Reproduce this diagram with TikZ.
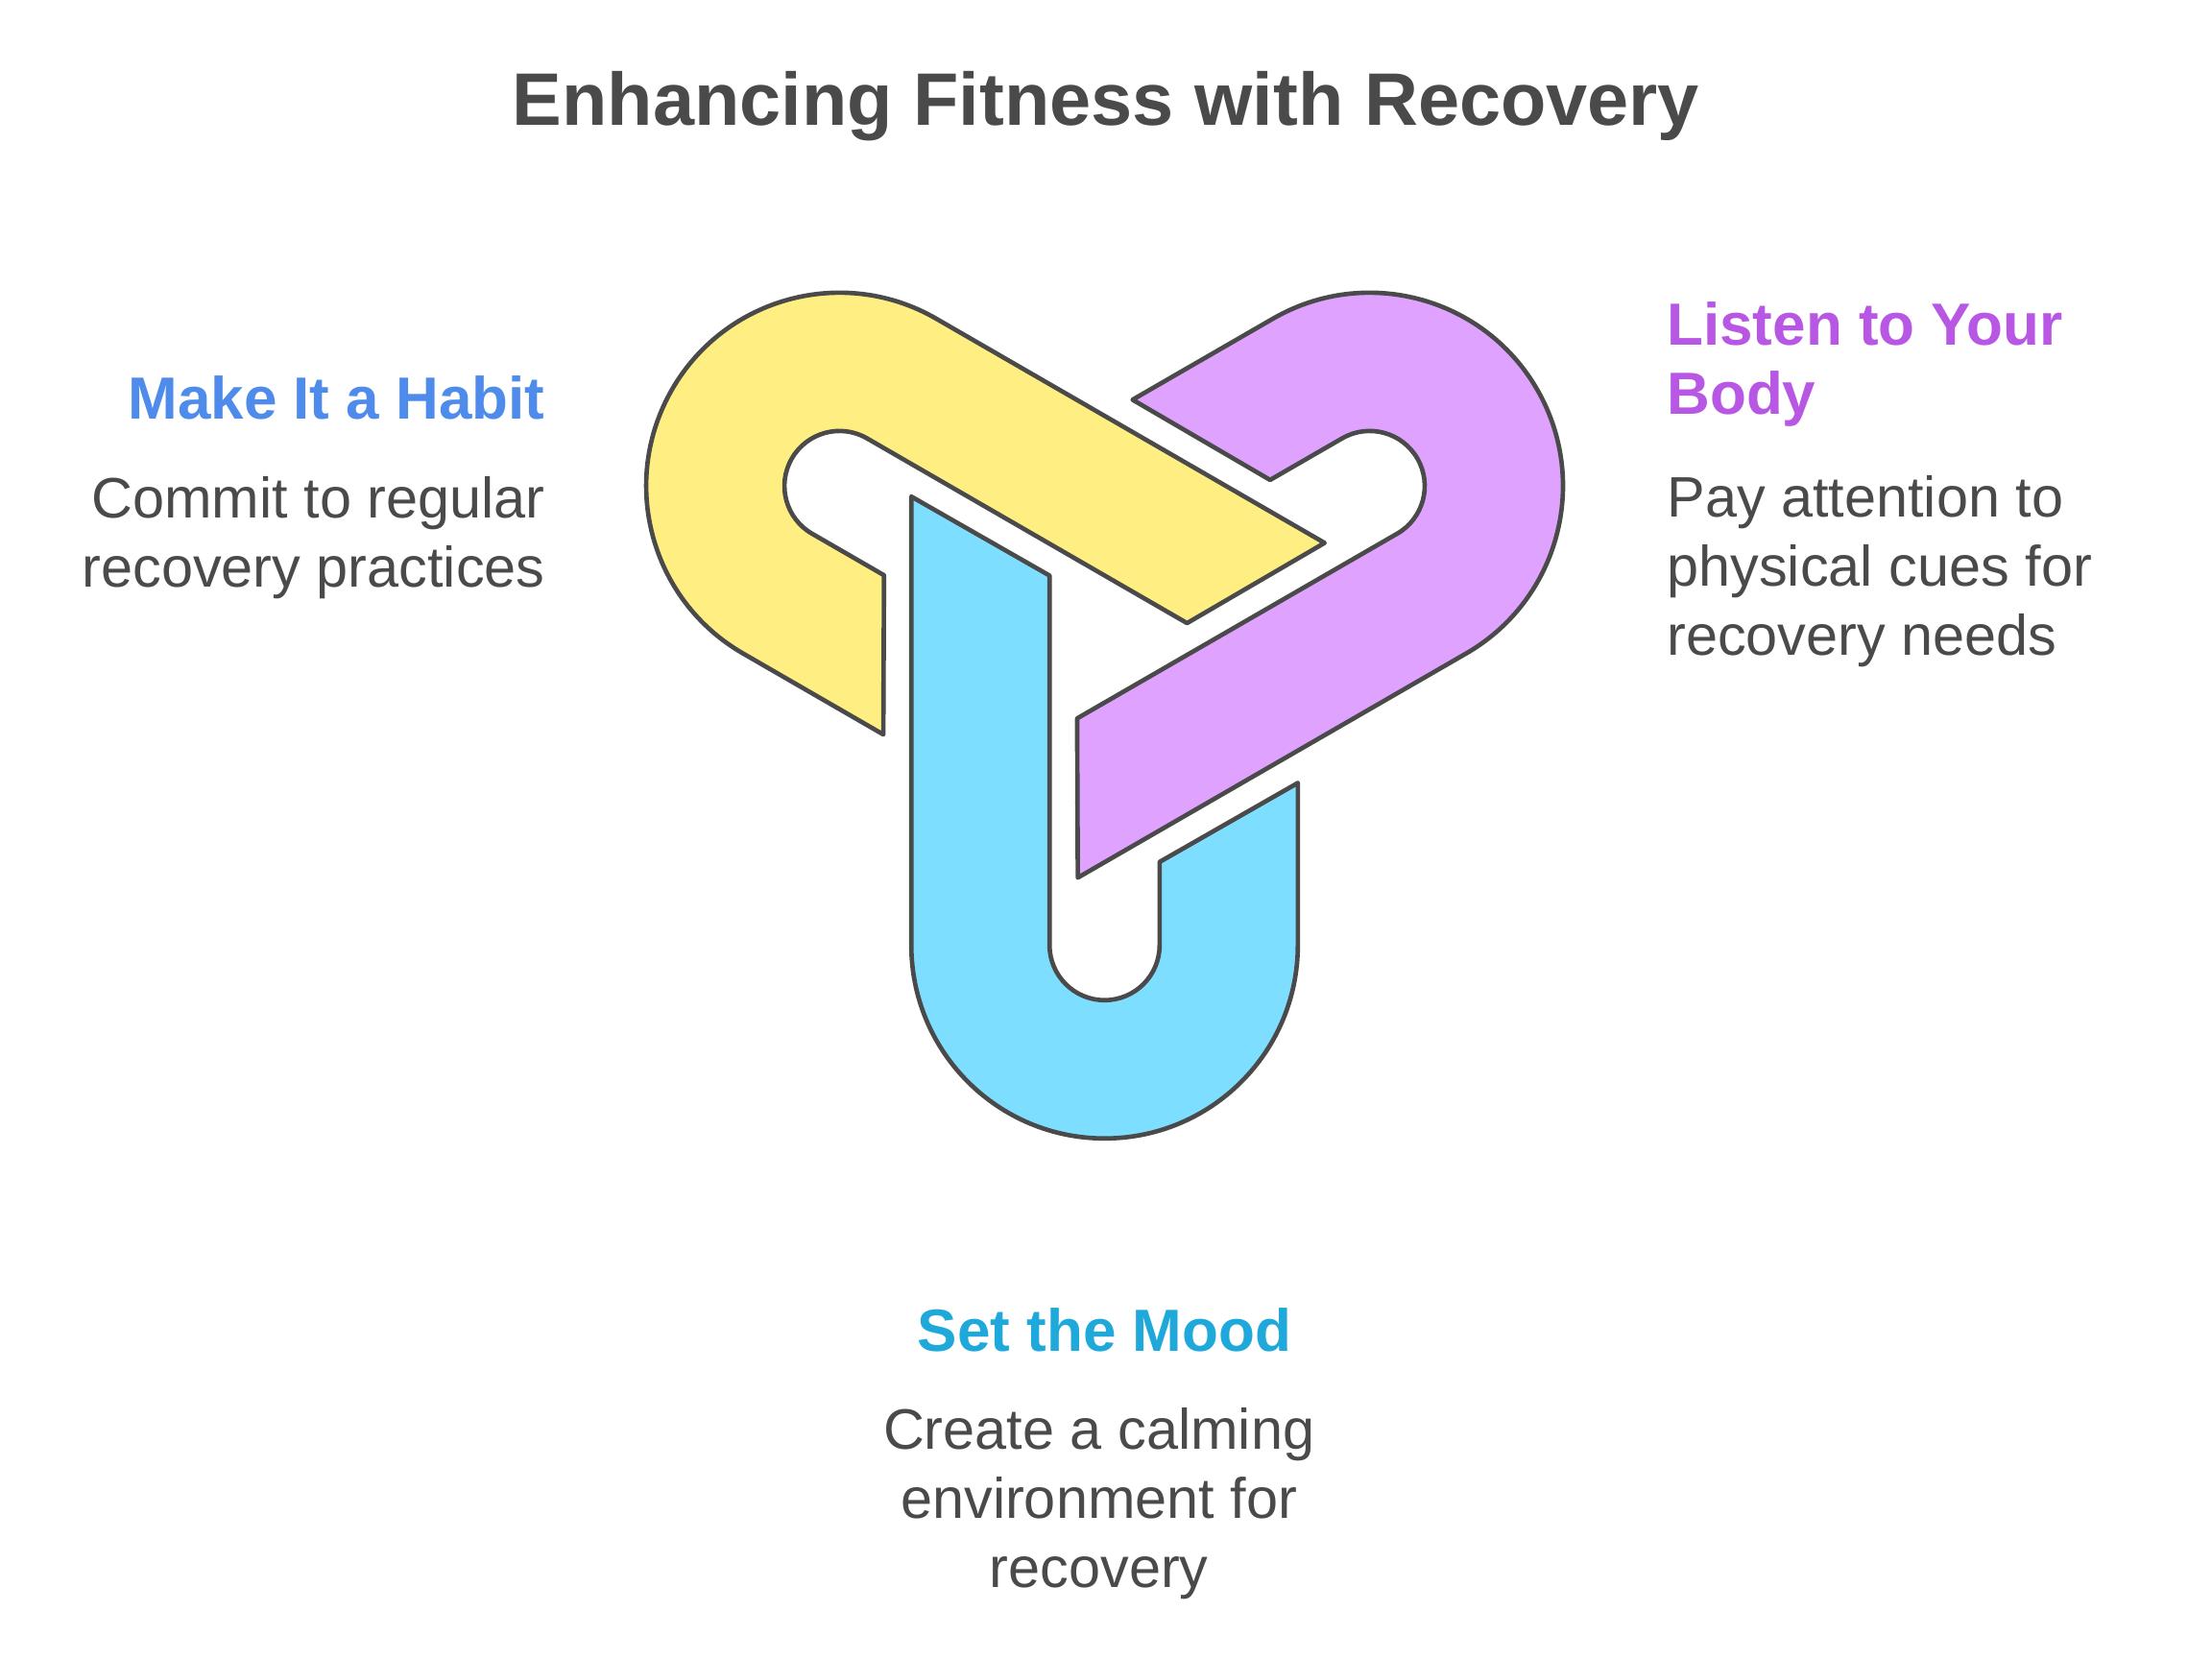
\documentclass[tikz,border=0pt]{standalone}
\usepackage{fontspec}
\setmainfont{Liberation Sans}
\definecolor{ink}{HTML}{4A4A4A}
\definecolor{yel}{HTML}{FFEE82}
\definecolor{blu}{HTML}{7DDEFF}
\definecolor{pur}{HTML}{DFA2FF}
\definecolor{hblue}{HTML}{4F8BEA}
\definecolor{hpur}{HTML}{B757E3}
\definecolor{hcyan}{HTML}{1EA9DA}
\begin{document}
\begin{tikzpicture}[x=0.01cm,y=-0.01cm,
  link/.style={draw=ink,line width=0.9pt,line join=round},
  body/.style={text=ink,font=\fontsize{11.5}{13.9}\selectfont,inner sep=0pt},
  head/.style={font=\fontsize{12}{13.9}\bfseries\selectfont,inner sep=0pt}]
\useasboundingbox (0,0) rectangle (1568,1176);
\def\linkpath{(646,352) -- (646,670) arc (180:0:137) -- (920,555) -- (822,611) -- (822,670) arc (0:180:39) -- (744,408) -- cycle}
\begin{scope}[rotate around={120:(783,453)}]
  \path[link,fill=pur] \linkpath;
\end{scope}
\begin{scope}[rotate around={240:(783,453)}]
  \path[link,fill=yel] \linkpath;
\end{scope}
\path[link,fill=blu] \linkpath;
\node[text=ink,font=\fontsize{15}{18}\bfseries\selectfont] (title) at (784,75) {Enhancing Fitness with Recovery};
\node[head,text=hblue,anchor=east] (h1) at (387,282) {Make It a Habit};
\node[body,anchor=east,align=right] (b1) at (387,381) {Commit to regular\\recovery practices};
\node[head,text=hpur,anchor=west,align=left] (h2) at (1181,258) {Listen to Your\\Body};
\node[body,anchor=west,align=left] (b2) at (1181,405) {Pay attention to\\physical cues for\\recovery needs};
\node[head,text=hcyan] (h3) at (783,943) {Set the Mood};
\node[body,align=center] (b3) at (779,1066) {Create a calming\\environment for\\recovery};
\end{tikzpicture}
\end{document}
